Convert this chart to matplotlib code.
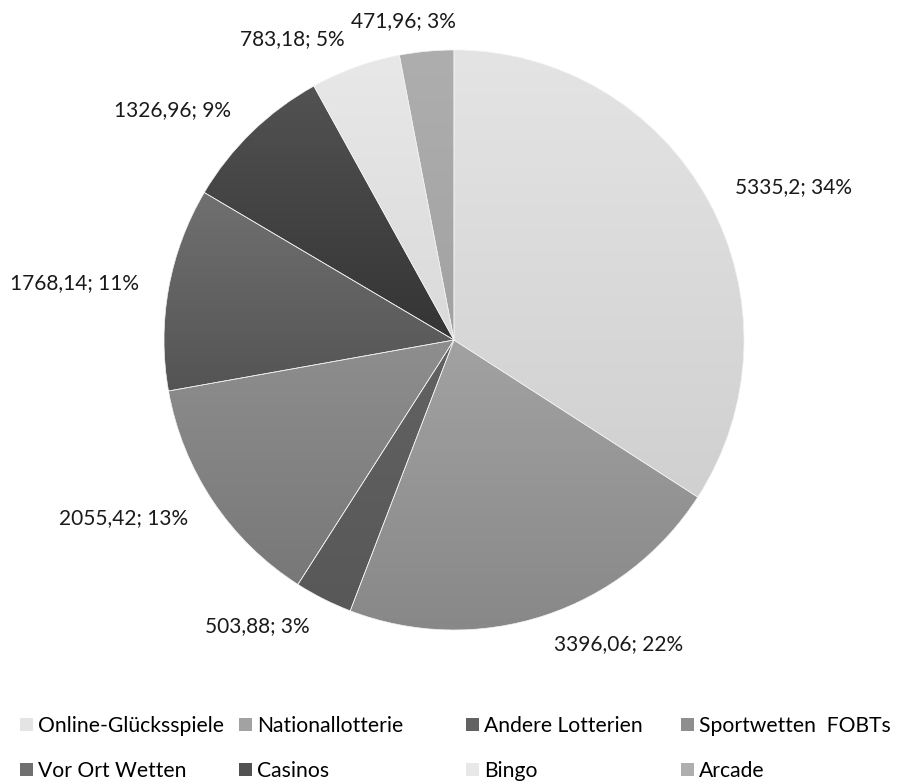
import numpy as np
import matplotlib
matplotlib.use("Agg")
import matplotlib.pyplot as plt
from matplotlib.patches import Patch

plt.rcParams['font.family'] = ['Lato', 'DejaVu Sans']

categories = ['Online-Glücksspiele', 'Nationallotterie', 'Andere Lotterien',
              'Sportwetten  FOBTs', 'Vor Ort Wetten', 'Casinos', 'Bingo', 'Arcade']
values = [5335.2, 3396.06, 503.88, 2055.42, 1768.14, 1326.96, 783.18, 471.96]
value_labels = ['5335,2', '3396,06', '503,88', '2055,42', '1768,14', '1326,96', '783,18', '471,96']
pct_labels = [34, 22, 3, 13, 11, 9, 5, 3]   # as printed (rounded to sum 100)
# grey levels (0-255) of each slice: top / bottom of the gradient
grey_top = [228, 162, 98, 142, 112, 82, 232, 174]
grey_bottom = [208, 136, 88, 120, 84, 52, 218, 162]

fig = plt.figure(figsize=(8.98, 7.83), dpi=100)
W, H = 898, 783
cx, cy, r = 454, 340, 290
ax = fig.add_axes([(cx - r) / W, (H - cy - r) / H, 2 * r / W, 2 * r / H])

wedges, _ = ax.pie(values, startangle=90, counterclock=False, radius=1,
                   wedgeprops=dict(edgecolor='#f2f2f2', linewidth=0.5, facecolor='none'))
ax.set_xlim(-1, 1)
ax.set_ylim(-1, 1)
ax.axis('off')

# vertical gradient fill per slice
for w, gt, gb in zip(wedges, grey_top, grey_bottom):
    w.set_zorder(3)
    bb = w.get_path().get_extents()
    g = np.linspace(gt, gb, 256)[:, None] / 255.0
    img = np.dstack([g, g, g])
    im = ax.imshow(img, extent=[bb.x0, bb.x1, bb.y0, bb.y1], origin='upper',
                   aspect='auto', zorder=2, interpolation='bilinear')
    im.set_clip_path(w)

texts = []
for lab, p in zip(value_labels, pct_labels):
    t = ax.text(0, 0, f"{lab}; {p}%", ha='center', va='center', fontsize=15,
                color='#1a1a1a', clip_on=False)
    texts.append(t)

# "outside end" labels: anchor point on a ring outside the pie, the box is
# pushed sideways (left/right) away from it, vertically centred
fig.canvas.draw()
rend = fig.canvas.get_renderer()
k = 1.105
for w, t in zip(wedges, texts):
    ang = np.deg2rad((w.theta1 + w.theta2) / 2)
    c, s = np.cos(ang), np.sin(ang)
    bb = t.get_window_extent(rend)
    px, py = ax.transData.transform((k * c, k * s))
    f = np.clip(4 * c, -1, 1)
    pos = ax.transData.inverted().transform((px + bb.width / 2 * f, py))
    t.set_position(pos)

# legend: 4 columns x 2 rows, one small legend per entry
col_x = [20, 239, 466, 681]
row_y = [726, 771]
for i, name in enumerate(categories):
    col, row = i % 4, i // 4
    g = grey_top[i]
    h = Patch(facecolor=(g / 255, g / 255, g / 255))
    fig.legend([h], [name], loc='center left',
               bbox_to_anchor=(col_x[col] / W, 1 - row_y[row] / H), frameon=False,
               fontsize=15.2, handlelength=0.6, handleheight=0.6, handletextpad=0.25,
               borderaxespad=0, borderpad=0)

fig.savefig('out.png', dpi=100)
